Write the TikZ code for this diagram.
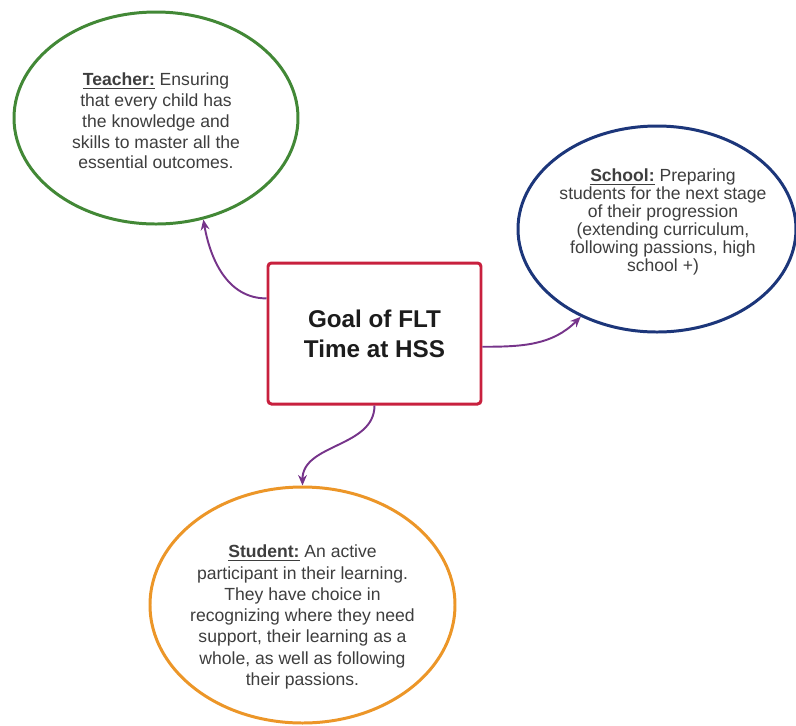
\documentclass[tikz,border=0pt]{standalone}
\usepackage{fontspec}
\setmainfont{Liberation Sans}
\usepackage{tikz}
\usetikzlibrary{shapes}
\usetikzlibrary{arrows.meta}
\definecolor{teachergreen}{RGB}{66,136,54}
\definecolor{schoolblue}{RGB}{28,54,122}
\definecolor{studentorange}{RGB}{236,150,40}
\definecolor{goalred}{RGB}{200,32,62}
\definecolor{linkpurple}{RGB}{118,52,138}
\definecolor{textgray}{RGB}{62,62,62}
\definecolor{titleblack}{RGB}{28,28,28}
\newcommand{\bubble}[6]{\node[shape=ellipse,draw=#2,line width=1.7pt,fill=white,inner sep=0pt,minimum width=#5*0.02cm,minimum height=#6*0.02cm] (#1) at ( #3 , #4 ) {};}
\newcommand{\bubbletext}[5]{\node[shape=rectangle,draw=none,fill=none,inner sep=0pt,align=center,text=textgray,font=\fontsize{10pt}{#4}\selectfont] (#1) at ( #2 , #3 ) {#5};}
\newcommand{\link}[4]{\draw[draw=linkpurple,line width=1.1pt,-{Stealth[length=6pt,width=5pt]}] (#1) to[out=#3,in=#4] (#2);}

\begin{document}
\begin{tikzpicture}[x=0.02cm,y=-0.02cm]
                \useasboundingbox (0,0) rectangle (796,725);
                % bubbles
                \bubble{teacher}{teachergreen}{156}{118}{284}{212}
                \bubble{school}{schoolblue}{657}{229}{278}{206}
                \bubble{student}{studentorange}{302.5}{605}{305}{236}
                % text in the bubbles
                \bubbletext{teachertext}{156}{121}{11.8pt}{\underline{\textbf{Teacher:}} Ensuring\\that every child has\\the knowledge and\\skills to master all the\\essential outcomes.}
                \bubbletext{schooltext}{663}{222}{10.3pt}{\underline{\textbf{School:}} Preparing\\students for the next stage\\of their progression\\(extending curriculum,\\following passions, high\\school +)}
                \bubbletext{studenttext}{302.5}{617}{12.1pt}{\underline{\textbf{Student:}} An active\\participant in their learning.\\They have choice in\\recognizing where they need\\support, their learning as a\\whole, as well as following\\their passions.}
                % goal box
                \node[shape=rectangle,draw=goalred,line width=1.7pt,fill=white,rounded corners=2pt,inner sep=0pt,minimum width=213*0.02cm,minimum height=141*0.02cm,align=center,text=titleblack,font=\bfseries\fontsize{13.8pt}{17pt}\selectfont] (goal) at ( 374.5 , 333.5 ) {Goal of FLT\\Time at HSS};
                % links
                \link{goal.162.5}{teacher.-65}{180}{-80}
                \link{goal.-7.75}{school.-131}{0}{-135}
                \link{goal.south}{student.north}{-90}{90}
            \end{tikzpicture}
\end{document}
